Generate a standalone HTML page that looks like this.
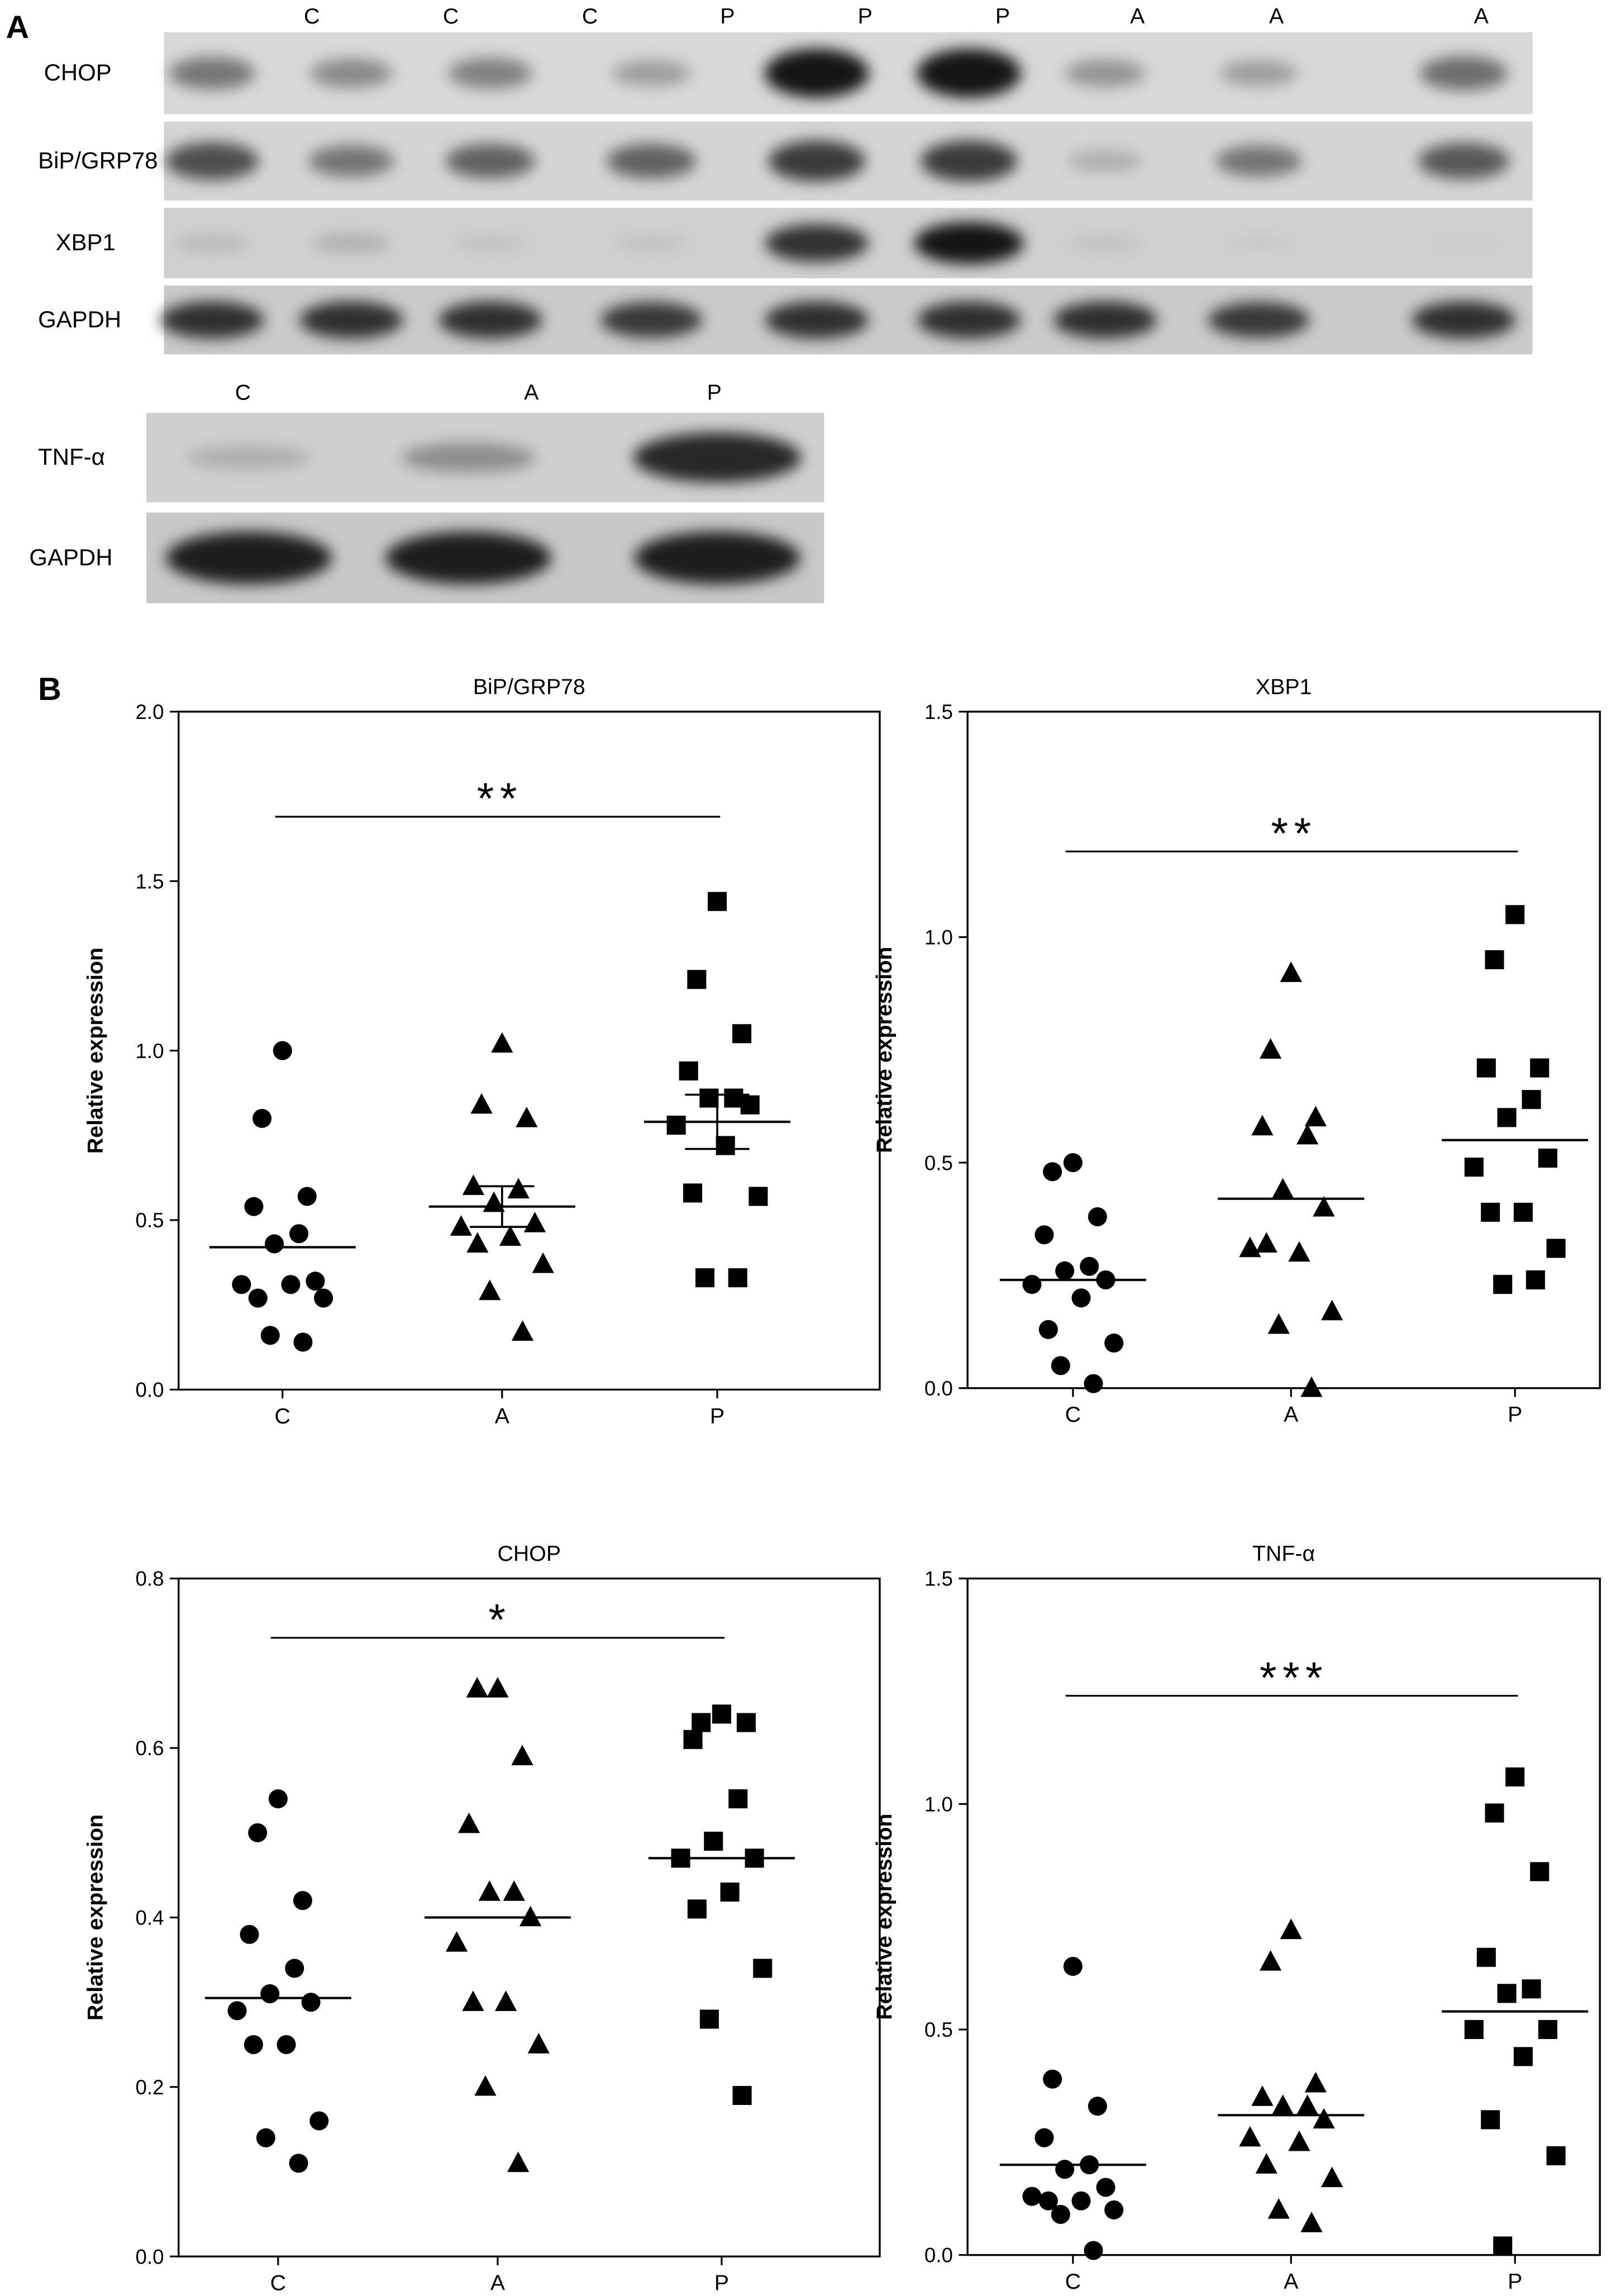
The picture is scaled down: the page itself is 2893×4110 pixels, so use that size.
<!DOCTYPE html>
<html><head><meta charset="utf-8"><style>
html,body{margin:0;padding:0;background:#fff;}
svg{display:block;font-family:"Liberation Sans",sans-serif;}
</style></head><body>
<svg id="fig" width="2893" height="4110" viewBox="0 0 1104 1568" preserveAspectRatio="none" xmlns="http://www.w3.org/2000/svg">
<defs>
<filter id="blur" x="-50%" y="-100%" width="200%" height="300%"><feGaussianBlur stdDeviation="5"/></filter>
</defs>
<g id="blots"></g>
<g id="charts"></g>
</svg>
<script>
const NS="http://www.w3.org/2000/svg";
function el(tag,attrs,parent,txt){const e=document.createElementNS(NS,tag);for(const k in attrs)e.setAttribute(k,attrs[k]);if(txt!==undefined)e.textContent=txt;parent.appendChild(e);return e;}
const blots=document.getElementById('blots');
const charts=document.getElementById('charts');

// ---- Panel A: blot data ----
const laneLabels1=["C","C","C","P","P","P","A","A","A"];
const laneLabelX1=[213,308,403,497,591,685,777,872,1012];
const bandX1=[145,240,335,445,558,662,755,860,1000];
const chopBands=[0.5,0.4,0.45,0.3,1.0,1.0,0.35,0.3,0.55];
const bipBands=[0.7,0.5,0.6,0.6,0.8,0.8,0.2,0.5,0.65];
const xbpBands=[0.12,0.18,0.08,0.08,0.85,1.0,0.08,0.04,0.02];
const gapdhBands=[0.85,0.85,0.85,0.8,0.85,0.85,0.85,0.8,0.85];
const laneLabels2=["C","A","P"];
const laneLabelX2=[166,363,488];
const bandX2=[170,320,490];
const tnfBands=[0.18,0.35,0.9];
const gapdh2Bands=[0.95,0.95,0.95];

el('text',{x:4,y:26,'font-size':22,'font-weight':'bold',},blots,'A');
laneLabels1.forEach((l,i)=>{const t=el('text',{x:laneLabelX1[i],y:16,'font-size':15,'text-anchor':'middle'},blots,l);

});
laneLabels2.forEach((l,i)=>{const t=el('text',{x:laneLabelX2[i],y:273,'font-size':15,'text-anchor':'middle'},blots,l);

});

function strip(name,label,lx,x0,x1,y0,y1,bx,vals,bw,bg){
  const g=el('g',{},blots);
  
  
  el('rect',{x:x0,y:y0,width:x1-x0,height:y1-y0,fill:bg},g);
  const cy=(y0+y1)/2;
  vals.forEach((v,i)=>{
    const e=el('ellipse',{cx:bx[i],cy:cy,rx:bw*(0.55+0.3*v),ry:(y1-y0)*(0.1+0.2*v),fill:'#000','fill-opacity':Math.min(1,v*0.9),filter:'url(#blur)'},g);
    
    
  });
  const t=el('text',{x:lx,y:cy+5,'font-size':16},blots,label);
  
  
}
strip('chop-blot','CHOP',30,112,1047,22,78,bandX1,chopBands,42,'#d8d8d8');
strip('bip-blot','BiP/GRP78',26,112,1047,83,137,bandX1,bipBands,42,'#d4d4d4');
strip('xbp1-blot','XBP1',38,112,1047,142,190,bandX1,xbpBands,44,'#d0d0d0');
strip('gapdh-blot','GAPDH',26,112,1047,195,242,bandX1,gapdhBands,44,'#cacaca');
strip('tnf-blot','TNF-α',26,100,563,282,343,bandX2,tnfBands,70,'#cfcfcf');
strip('gapdh2-blot','GAPDH',20,100,563,350,412,bandX2,gapdh2Bands,68,'#c8c8c8');

el('text',{x:26,y:478,'font-size':22,'font-weight':'bold',},charts,'B');

// ---- Panel B data ----
const categories=["C","A","P"];
const bipC=[1.00,0.80,0.57,0.54,0.46,0.43,0.32,0.31,0.31,0.27,0.27,0.16,0.14];
const bipA=[1.02,0.84,0.80,0.60,0.59,0.55,0.49,0.48,0.45,0.43,0.37,0.29,0.17];
const bipP=[1.44,1.21,1.05,0.94,0.86,0.86,0.84,0.78,0.72,0.58,0.57,0.33,0.33];
const bipMeans=[0.42,0.54,0.79];
const bipErr=[0,0.06,0.08];
const xbpC=[0.50,0.48,0.38,0.34,0.27,0.26,0.24,0.23,0.20,0.13,0.10,0.05,0.01];
const xbpA=[0.92,0.75,0.60,0.58,0.56,0.44,0.40,0.31,0.30,0.32,0.17,0.14,0.00];
const xbpP=[1.05,0.95,0.71,0.71,0.64,0.60,0.51,0.49,0.39,0.39,0.31,0.23,0.24];
const xbpMeans=[0.24,0.42,0.55];
const chopC=[0.54,0.50,0.42,0.38,0.34,0.31,0.30,0.29,0.25,0.25,0.16,0.14,0.11];
const chopA=[0.67,0.67,0.59,0.51,0.43,0.43,0.40,0.37,0.30,0.30,0.25,0.20,0.11];
const chopP=[0.64,0.63,0.63,0.61,0.54,0.49,0.47,0.47,0.43,0.41,0.34,0.28,0.19];
const chopMeans=[0.305,0.40,0.47];
const tnfC=[0.64,0.39,0.33,0.26,0.20,0.19,0.15,0.13,0.12,0.12,0.10,0.09,0.01];
const tnfA=[0.72,0.65,0.38,0.35,0.33,0.33,0.30,0.26,0.25,0.20,0.17,0.10,0.07];
const tnfP=[1.06,0.98,0.85,0.66,0.59,0.58,0.50,0.50,0.44,0.30,0.22,0.02];
const tnfMeans=[0.20,0.31,0.54];
const bipTicks=["0.0","0.5","1.0","1.5","2.0"];
const xbpTicks=["0.0","0.5","1.0","1.5"];
const chopTicks=["0.0","0.2","0.4","0.6","0.8"];
const tnfTicks=["0.0","0.5","1.0","1.5"];
const jitter=[0,-10,12,-14,8,-4,16,-20,4,-12,20,-6,10];

function chart(name,title,box,catX,ymax,ticks,series,means,err,sigY,stars){
  const g=el('g',{},charts);
  
  
  const [x0,y0,x1,y1]=box;
  const ys=v=>y1-(v/ymax)*(y1-y0);
  const xs=i=>catX[i];
  el('rect',{x:x0,y:y0,width:x1-x0,height:y1-y0,fill:'none',stroke:'#000','stroke-width':1.3},g);
  const tt=el('text',{x:(x0+x1)/2,y:y0-12,'font-size':15,'text-anchor':'middle'},g,title);
  
  
  ticks.forEach(t=>{const v=parseFloat(t);const y=ys(v);
    el('line',{x1:x0-6,x2:x0,y1:y,y2:y,stroke:'#000','stroke-width':1.2},g);
    const lt=el('text',{x:x0-10,y:y+5,'font-size':14,'text-anchor':'end'},g,t);
    
    });
  categories.forEach((c,i)=>{
    el('line',{x1:xs(i),x2:xs(i),y1:y1,y2:y1+6,stroke:'#000','stroke-width':1.2},g);
    const ct=el('text',{x:xs(i),y:y1+23,'font-size':15,'text-anchor':'middle'},g,c);
    
    });
  const yl=el('text',{x:0,y:0,'font-size':15,'font-weight':'bold','text-anchor':'middle',transform:`translate(${x0-52},${(y0+y1)/2}) rotate(-90)`},g,'Relative expression');
  
  
  series.forEach((arr,i)=>{
    arr.forEach((v,j)=>{
      const cx=xs(i)+jitter[j%jitter.length]*1.4, cy=ys(v);
      let m;
      if(i===0) m=el('circle',{cx:cx,cy:cy,r:6.5,fill:'#000'},g);
      else if(i===1) m=el('polygon',{points:`${cx},${cy-8} ${cx-7.5},${cy+6} ${cx+7.5},${cy+6}`,fill:'#000'},g);
      else m=el('rect',{x:cx-6.5,y:cy-6.5,width:13,height:13,fill:'#000'},g);
      
      
    });
    const my=ys(means[i]);
    const ml=el('line',{x1:xs(i)-50,x2:xs(i)+50,y1:my,y2:my,stroke:'#000','stroke-width':1.6},g);
    
    
    if(err&&err[i]>0){
      const a=ys(means[i]+err[i]),b=ys(means[i]-err[i]);
      el('line',{x1:xs(i),x2:xs(i),y1:a,y2:b,stroke:'#000','stroke-width':1.4},g);
      el('line',{x1:xs(i)-22,x2:xs(i)+22,y1:a,y2:a,stroke:'#000','stroke-width':1.4},g);
      el('line',{x1:xs(i)-22,x2:xs(i)+22,y1:b,y2:b,stroke:'#000','stroke-width':1.4},g);
    }
  });
  const sy=ys(sigY);
  const sl=el('line',{x1:xs(0)-5,x2:xs(2)+2,y1:sy,y2:sy,stroke:'#000','stroke-width':1.2},g);
  
  
  const st=el('text',{x:(xs(0)+xs(2))/2,y:sy-2,'font-size':30,'text-anchor':'middle','letter-spacing':4},g,stars);
  
  
}
chart('bip-chart','BiP/GRP78',[122,486,601,949],[193,343,490],2.0,bipTicks,[bipC,bipA,bipP],bipMeans,bipErr,1.69,'**');
chart('xbp1-chart','XBP1',[661,486,1093,948],[733,882,1035],1.5,xbpTicks,[xbpC,xbpA,xbpP],xbpMeans,null,1.19,'**');
chart('chop-chart','CHOP',[122,1078,601,1541],[190,340,493],0.8,chopTicks,[chopC,chopA,chopP],chopMeans,null,0.73,'*');
chart('tnf-chart','TNF-α',[661,1078,1093,1540],[733,882,1035],1.5,tnfTicks,[tnfC,tnfA,tnfP],tnfMeans,null,1.24,'***');
</script>
</body></html>
